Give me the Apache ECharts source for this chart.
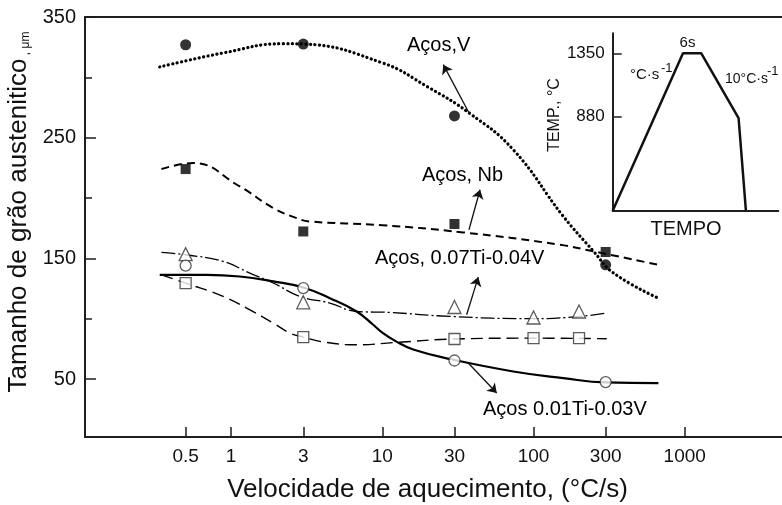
<!DOCTYPE html>
<html>
<head>
<meta charset="utf-8">
<script src="https://cdn.jsdelivr.net/npm/echarts@6/dist/echarts.min.js"></script>
<style>html,body{margin:0;padding:0;background:#fff}#c{width:782px;height:505px}</style>
</head>
<body>
<div id="c"></div>
<script>
// ---- axis ticks ----
const xTickValues = [0.5, 1, 3, 10, 30, 100, 300, 1000];
const xTickLabels = ['0.5', '1', '3', '10', '30', '100', '300', '1000'];
const yLabelValues = [50, 150, 250, 350];
const yMinorValues = [100, 200, 300];
const insetTempTicks = [880, 1350];

// ---- measured points ----
const vPtX = [0.5, 3, 30, 300];
const vPtY = [327, 327.6, 268, 144.7];
const nbPtX = [0.5, 3, 30, 300];
const nbPtY = [224, 172.3, 178.5, 155.3];
const triPtX = [0.5, 3, 30, 100, 200];
const triPtY = [153.5, 113.6, 109.7, 101, 106];
const circPtX = [0.5, 3, 30, 300];
const circPtY = [144, 125.4, 65.4, 47.5];
const sqPtX = [0.5, 3, 30, 100, 200];
const sqPtY = [129.5, 84.8, 83.2, 83.9, 84];

// ---- fitted curves ----
const vCurveX = [0.337, 0.885, 2.21, 3, 10, 20, 38, 73.5, 157, 249, 337, 670];
const vCurveY = [308.6, 320.2, 327.9, 327.6, 312, 292, 270, 240, 185, 156, 138, 117];
const nbCurveX = [0.346, 0.56, 1.14, 1.9, 2.71, 3.3, 10, 34.3, 150, 249, 670];
const nbCurveY = [224, 229, 209.6, 191.7, 183.4, 180.6, 177.5, 171.5, 161.3, 155.8, 144.7];
const triCurveX = [0.346, 0.5, 0.885, 1.33, 1.9, 2.85, 4.5, 6.76, 11.2, 28, 100, 203, 305];
const triCurveY = [154.9, 153, 147.5, 137.8, 129.6, 118.5, 113, 106, 105.2, 101.9, 100, 101.9, 104.7];
const circCurveX = [0.337, 0.687, 1.14, 1.9, 3, 4.5, 6.76, 8.7, 10.1, 12.4, 16, 28, 73.5, 157, 300, 670];
const circCurveY = [136.4, 136.4, 135, 130.9, 125.9, 117, 106, 95, 88, 81, 74.5, 66.6, 56.3, 50.8, 47.2, 46.7];
const sqCurveX = [0.346, 0.5, 0.885, 1.33, 1.9, 2.45, 3, 4.28, 6.76, 12.4, 30, 100, 305];
const sqCurveY = [136.4, 129.5, 118.5, 107.4, 96.4, 88.1, 84.8, 80.3, 78.4, 80.4, 83.2, 83.9, 83.4];

// ---- inset thermal cycle ----
const insetTime = [0, 23, 29, 41.2, 43.6];
const insetTemp = [183, 1350, 1350, 870, 183];

// ---- annotation arrows (data coords: from -> to) ----
const arrowV = [[38, 269], [25.3, 310.5]];
const arrowNb = [[37.4, 173.7], [44.3, 206.9]];
const arrowTi07 = [[36.1, 103.3], [43.1, 134.5]];
const arrowTi01 = [[37.0, 63.3], [57.1, 38.4]];

const FONT = "'Liberation Sans', Arial, Helvetica, sans-serif";
const pairs = (xs, ys) => xs.map((x, i) => [x, ys[i]]);
const AX = '#1e1e1e';

const chart = echarts.init(document.getElementById('c'), null, {renderer: 'canvas'});

function curve(xs, ys, lineStyle) {
  return {type: 'line', xAxisIndex: 0, yAxisIndex: 0, data: pairs(xs, ys), smooth: 0.45,
    symbol: 'none', showSymbol: false, silent: true, z: 2, lineStyle: Object.assign({color: '#000'}, lineStyle)};
}
function pts(xs, ys, symbol, size, filled) {
  return {type: 'scatter', xAxisIndex: 0, yAxisIndex: 0, data: pairs(xs, ys), symbol: symbol, symbolSize: size,
    silent: true, z: 5,
    itemStyle: filled ? {color: '#000'} : {color: '#fff', borderColor: '#333', borderWidth: 1.3}};
}
function arrow(a) { return [{coord: a[0]}, {coord: a[1]}]; }

const option = {
  animation: false,
  backgroundColor: '#fff',
  textStyle: {fontFamily: FONT},
  grid: [
    {left: 85, top: 17, width: 697, height: 420, outerBoundsMode: 'none', containLabel: false},
    {left: 612.7, top: 33.3, width: 165.6, height: 177.4, outerBoundsMode: 'none', containLabel: false}
  ],
  xAxis: [
    {type: 'log', gridIndex: 0, logBase: 10, min: 0.108, max: 4400, position: 'bottom',
      name: 'Velocidade de aquecimento, (°C/s)', nameLocation: 'middle', nameGap: 40,
      nameTextStyle: {fontSize: 26, color: '#111', fontFamily: FONT, padding: [0, 12, 0, 0]},
      axisLine: {show: true, onZero: false, lineStyle: {color: AX, width: 2}},
      axisTick: {show: true, inside: true, length: 10, customValues: xTickValues, lineStyle: {color: AX, width: 1.5}},
      axisLabel: {show: true, customValues: xTickValues, fontSize: 19, color: '#111', margin: 10, fontFamily: FONT,
        formatter: v => { const i = xTickValues.findIndex(t => Math.abs(t - v) / t < 1e-6); return i >= 0 ? xTickLabels[i] : ''; }},
      splitLine: {show: false}, minorTick: {show: false}},
    {type: 'value', gridIndex: 0, position: 'top', min: 0, max: 1,
      axisLine: {show: true, onZero: false, lineStyle: {color: AX, width: 2}},
      axisTick: {show: false}, axisLabel: {show: false}, splitLine: {show: false}},
    {type: 'value', gridIndex: 1, min: 0, max: 54.2, position: 'bottom',
      name: 'TEMPO', nameLocation: 'middle', nameGap: 9,
      nameTextStyle: {fontSize: 20, color: '#111', fontFamily: FONT, padding: [0, 19, 0, 0]},
      axisLine: {show: true, onZero: false, lineStyle: {color: AX, width: 2}},
      axisTick: {show: false}, axisLabel: {show: false}, splitLine: {show: false}}
  ],
  yAxis: [
    {type: 'value', gridIndex: 0, min: 2, max: 350, position: 'left',
      name: '{a|Tamanho de grão austenitico}{b| , μm}', nameLocation: 'middle', nameRotate: 90, nameGap: 48,
      nameTextStyle: {fontSize: 26, color: '#111', fontFamily: FONT, padding: [0, 0, 0, 30],
        rich: {a: {fontSize: 26, color: '#111', fontFamily: FONT}, b: {fontSize: 12, color: '#111', fontFamily: FONT, verticalAlign: 'bottom'}}},
      axisLine: {show: true, onZero: false, lineStyle: {color: AX, width: 2}},
      axisTick: {show: true, inside: true, length: 11, customValues: yLabelValues, lineStyle: {color: AX, width: 1.5}},
      axisLabel: {show: true, customValues: yLabelValues, fontSize: 20, color: '#111', margin: 9, fontFamily: FONT,
        formatter: v => String(v)},
      splitLine: {show: false}},
    {type: 'value', gridIndex: 0, min: 2, max: 350, position: 'left',
      axisLine: {show: false, onZero: false},
      axisTick: {show: true, inside: true, length: 7, customValues: yMinorValues, lineStyle: {color: AX, width: 1.5}},
      axisLabel: {show: false}, splitLine: {show: false}},
    {type: 'value', gridIndex: 1, min: 183, max: 1498, position: 'left',
      name: 'TEMP., °C', nameLocation: 'middle', nameRotate: 90, nameGap: 44,
      nameTextStyle: {fontSize: 16, color: '#111', fontFamily: FONT, padding: [0, 0, 0, 14]},
      axisLine: {show: true, onZero: false, lineStyle: {color: AX, width: 2}},
      axisTick: {show: true, inside: true, length: 9, customValues: insetTempTicks, lineStyle: {color: AX, width: 1.5}},
      axisLabel: {show: true, customValues: insetTempTicks, fontSize: 17, color: '#111', margin: 8, fontFamily: FONT,
        formatter: v => String(v)},
      splitLine: {show: false}}
  ],
  series: [
    curve(vCurveX, vCurveY, {width: 3.2, type: [0.1, 4.4], cap: 'round'}),
    curve(nbCurveX, nbCurveY, {width: 2, type: [8, 5]}),
    curve(triCurveX, triCurveY, {width: 1.3, type: [14, 3, 2, 3]}),
    curve(circCurveX, circCurveY, {width: 2.2, type: 'solid'}),
    curve(sqCurveX, sqCurveY, {width: 1.4, type: [12, 6]}),
    Object.assign(pts(vPtX, vPtY, 'circle', 11, true), {
      markLine: {silent: true, symbol: ['none', 'arrow'], symbolSize: 9, animation: false,
        lineStyle: {color: '#111', width: 1.3, type: 'solid'}, label: {show: false}, emphasis: {disabled: true},
        data: [arrow(arrowV), arrow(arrowNb), arrow(arrowTi07), arrow(arrowTi01)]}
    }),
    pts(nbPtX, nbPtY, 'rect', 10, true),
    pts(triPtX, triPtY, 'triangle', 13, false),
    pts(circPtX, circPtY, 'circle', 11, false),
    pts(sqPtX, sqPtY, 'rect', 11, false),
    {type: 'line', xAxisIndex: 2, yAxisIndex: 2, data: pairs(insetTime, insetTemp), symbol: 'none', showSymbol: false,
      silent: true, lineStyle: {color: '#111', width: 2.5}}
  ],
  graphic: [
    {type: 'text', x: 407, y: 45, silent: true, style: {text: 'Aços,V', fontSize: 20, fontFamily: FONT, fill: '#000', align: 'left', verticalAlign: 'middle'}},
    {type: 'text', x: 422, y: 175, silent: true, style: {text: 'Aços, Nb', fontSize: 20, fontFamily: FONT, fill: '#000', align: 'left', verticalAlign: 'middle'}},
    {type: 'text', x: 375, y: 258, silent: true, style: {text: 'Aços, 0.07Ti-0.04V', fontSize: 20, fontFamily: FONT, fill: '#000', align: 'left', verticalAlign: 'middle'}},
    {type: 'text', x: 483, y: 409, silent: true, style: {text: 'Aços 0.01Ti-0.03V', fontSize: 20, fontFamily: FONT, fill: '#000', align: 'left', verticalAlign: 'middle'}},
    {type: 'text', x: 687.5, y: 43, silent: true, style: {text: '6s', fontSize: 15, fontFamily: FONT, fill: '#111', align: 'center', verticalAlign: 'middle'}},
    {type: 'text', x: 630, y: 75, silent: true, style: {text: '°C·s', fontSize: 15, fontFamily: FONT, fill: '#111', align: 'left', verticalAlign: 'middle'}},
    {type: 'text', x: 661, y: 68, silent: true, style: {text: '-1', fontSize: 13, fontFamily: FONT, fill: '#111', align: 'left', verticalAlign: 'middle'}},
    {type: 'text', x: 725, y: 79, silent: true, style: {text: '10°C·s', fontSize: 14, fontFamily: FONT, fill: '#111', align: 'left', verticalAlign: 'middle'}},
    {type: 'text', x: 767, y: 71, silent: true, style: {text: '-1', fontSize: 13, fontFamily: FONT, fill: '#111', align: 'left', verticalAlign: 'middle'}}
  ]
};
chart.setOption(option);
</script>
</body>
</html>
